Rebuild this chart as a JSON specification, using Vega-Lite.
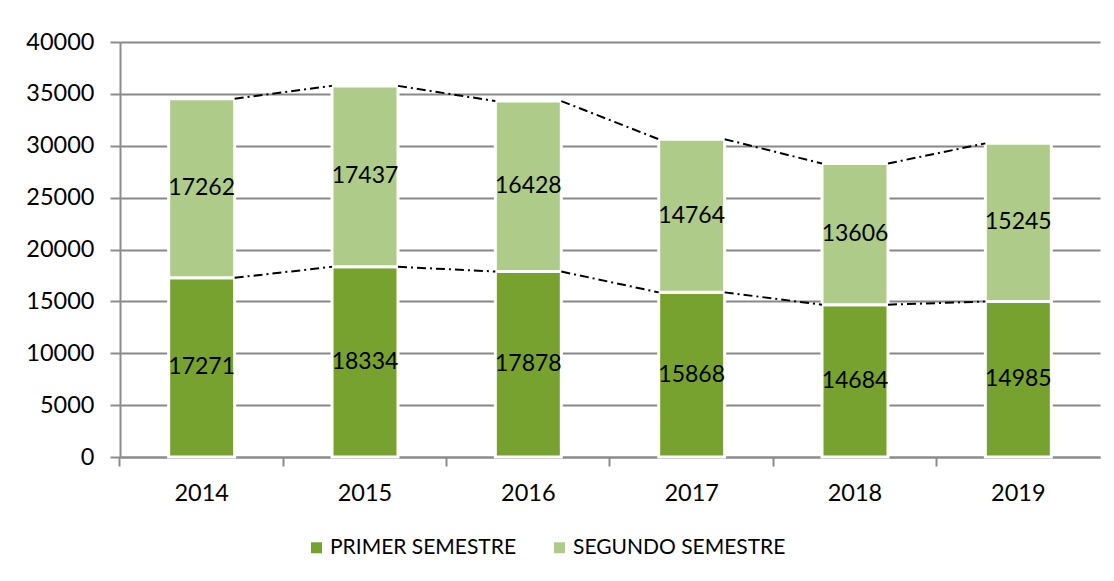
{
  "$schema": "https://vega.github.io/schema/vega-lite/v6.json",
  "width": 980,
  "height": 415,
  "autosize": {"type": "none"},
  "padding": {"left": 120, "top": 42, "right": 14, "bottom": 124},
  "background": "white",
  "config": {"font": "Lato", "view": {"stroke": null}},
  "data": {
    "values": [
      {"year": "2014", "semestre": "PRIMER SEMESTRE", "value": 17271},
      {"year": "2014", "semestre": "SEGUNDO SEMESTRE", "value": 17262},
      {"year": "2015", "semestre": "PRIMER SEMESTRE", "value": 18334},
      {"year": "2015", "semestre": "SEGUNDO SEMESTRE", "value": 17437},
      {"year": "2016", "semestre": "PRIMER SEMESTRE", "value": 17878},
      {"year": "2016", "semestre": "SEGUNDO SEMESTRE", "value": 16428},
      {"year": "2017", "semestre": "PRIMER SEMESTRE", "value": 15868},
      {"year": "2017", "semestre": "SEGUNDO SEMESTRE", "value": 14764},
      {"year": "2018", "semestre": "PRIMER SEMESTRE", "value": 14684},
      {"year": "2018", "semestre": "SEGUNDO SEMESTRE", "value": 13606},
      {"year": "2019", "semestre": "PRIMER SEMESTRE", "value": 14985},
      {"year": "2019", "semestre": "SEGUNDO SEMESTRE", "value": 15245}
    ]
  },
  "resolve": {"axis": {"x": "independent"}},
  "layer": [
    {
      "mark": {"type": "bar", "stroke": "white", "strokeWidth": 3},
      "encoding": {
        "x": {
          "field": "year", "type": "nominal",
          "scale": {"paddingInner": 0.596, "paddingOuter": 0.298},
          "axis": {
            "title": null, "labelAngle": 0, "labelFontSize": 23.5, "labelColor": "black",
            "ticks": false, "tickSize": 0, "labelPadding": 24,
            "domain": true, "domainColor": "#8c8c8c", "domainWidth": 2, "grid": false
          }
        },
        "y": {
          "field": "value", "type": "quantitative", "stack": "zero",
          "scale": {"domain": [0, 40000], "nice": false},
          "axis": {
            "title": null, "values": [0, 5000, 10000, 15000, 20000, 25000, 30000, 35000, 40000],
            "format": "d", "labelFontSize": 23.5, "labelColor": "black", "labelPadding": 16,
            "tickSize": 10, "tickColor": "#8c8c8c", "tickWidth": 2,
            "domain": true, "domainColor": "#8c8c8c", "domainWidth": 2,
            "grid": true, "gridColor": "#888888", "gridWidth": 2
          }
        },
        "color": {
          "field": "semestre", "type": "nominal",
          "scale": {"domain": ["PRIMER SEMESTRE", "SEGUNDO SEMESTRE"], "range": ["#78A22F", "#AECB8A"]},
          "legend": {
            "title": null, "orient": "none", "direction": "horizontal",
            "legendX": 186, "legendY": 495, "labelLimit": 0,
            "symbolType": "square", "symbolSize": 121, "symbolStrokeWidth": 0,
            "labelFontSize": 21, "labelColor": "black", "labelOffset": 3, "columnPadding": 32
          }
        },
        "order": {"field": "semestre", "sort": "ascending"}
      }
    },
    {
      "mark": {"type": "text", "fontSize": 23, "color": "black"},
      "encoding": {
        "x": {"field": "year", "type": "nominal", "axis": null},
        "y": {"field": "value", "type": "quantitative", "stack": "zero", "bandPosition": 0.5},
        "detail": {"field": "semestre"},
        "order": {"field": "semestre", "sort": "ascending"},
        "text": {"field": "value", "type": "quantitative", "format": "d"}
      }
    },
    {
      "transform": [
        {"stack": "value", "groupby": ["year"], "sort": [{"field": "semestre", "order": "ascending"}], "as": ["v0", "v1"]},
        {"window": [{"op": "lead", "field": "year", "as": "next_year"}, {"op": "lead", "field": "v1", "as": "next_v1"}],
         "groupby": ["semestre"], "sort": [{"field": "year", "order": "ascending"}]},
        {"filter": "datum.next_year != null"}
      ],
      "mark": {"type": "rule", "strokeDash": [9, 4, 2, 4], "strokeWidth": 2, "color": "black"},
      "encoding": {
        "x": {
          "field": "year", "type": "nominal", "bandPosition": 1,
          "axis": {
            "orient": "bottom", "title": null, "labels": false, "bandPosition": -0.738,
            "ticks": true, "tickSize": 9, "tickColor": "#8c8c8c", "tickWidth": 2,
            "domain": false, "grid": false
          }
        },
        "x2": {"field": "next_year", "bandPosition": 0},
        "y": {"field": "v1", "type": "quantitative"},
        "y2": {"field": "next_v1"}
      }
    }
  ]
}
